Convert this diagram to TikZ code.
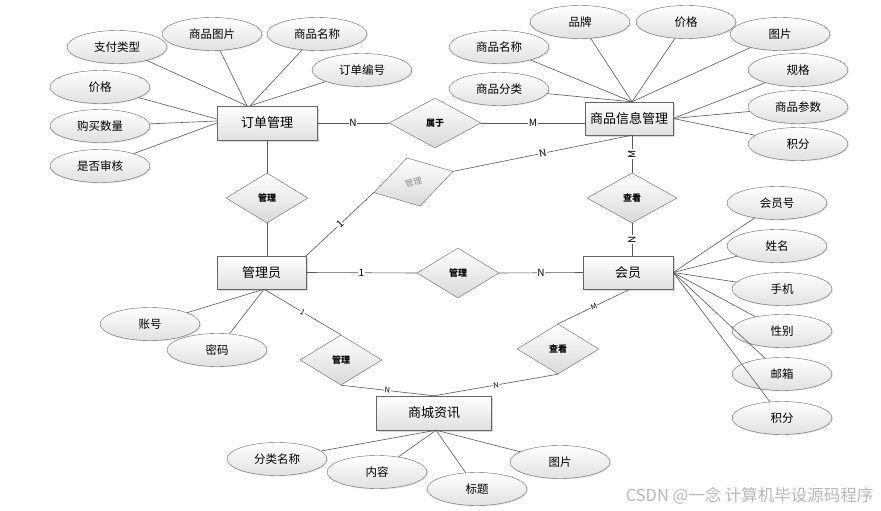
\documentclass[tikz,border=0pt]{standalone}
\usepackage{fontspec}
\newfontfamily\cjk{Noto Sans CJK SC}
\usetikzlibrary{shapes.geometric,shadows,positioning}

\begin{document}
\begin{tikzpicture}[x=1pt,y=-1pt,
    entity/.style={draw=black!60, rectangle, minimum height=34pt, inner sep=0pt,
        top color=white, bottom color=black!12,
        drop shadow={shadow xshift=1.5pt,shadow yshift=-1.5pt,fill=black!30},
        font=\cjk\fontsize{13}{15}\selectfont},
    attr/.style={draw=black!60, ellipse, minimum width=100pt, minimum height=33pt, inner sep=0pt,
        top color=white, bottom color=black!12,
        drop shadow={shadow xshift=1pt,shadow yshift=-1pt,fill=black!20},
        font=\cjk\fontsize{11.5}{13}\selectfont},
    rel/.style={draw=black!60, diamond, minimum width=82pt, minimum height=50pt, inner sep=0pt,
        top color=white, bottom color=black!15,
        font=\cjk\bfseries\fontsize{9}{10}\selectfont},
    link/.style={draw=black!65, line width=0.6pt},
    card/.style={fill=white, inner sep=0.6pt, font=\cjk\fontsize{10}{10}\selectfont},
    tinycard/.style={card, font=\cjk\fontsize{7.5}{8}\selectfont}]

    \fill[white] (0,0) rectangle (881,511);
    \useasboundingbox (0,0) rectangle (881,511);

    % entities
    \node[entity, minimum width=100pt] (dd) at (267,123) {订单管理};
    \node[entity, minimum width=88pt, minimum height=33pt] (spxx) at (629,118.5) {商品信息管理};
    \node[entity, minimum width=89pt, minimum height=33pt] (gly) at (261.5,272.5) {管理员};
    \node[entity, minimum width=90pt, minimum height=33pt] (hy) at (628,272.5) {会员};
    \node[entity, minimum width=115pt] (sczx) at (434,413) {商城资讯};

    % relations
    \node[rel, minimum width=92pt] (sy) at (435,123) {属于};
    \node[rel] (gl1) at (267,198) {管理};
    \node[rel, rotate=15, text=black!45, font=\cjk\fontsize{8.5}{9}\selectfont] (gl2) at (413.5,182) {管理};
    \node[rel] (gl3) at (458,273) {管理};
    \node[rel, minimum width=90pt] (ck1) at (632,198) {查看};
    \node[rel] (gl4) at (341,360) {管理};
    \node[rel] (ck2) at (558,349) {查看};

    % attributes of 订单管理
    \node[attr] (zflx) at (117,47) {支付类型};
    \node[attr] (sptp) at (212,34) {商品图片};
    \node[attr] (spmca) at (317,34) {商品名称};
    \node[attr] (ddbh) at (362,70) {订单编号};
    \node[attr] (jga) at (100,87) {价格};
    \node[attr] (gmsl) at (100,126) {购买数量};
    \node[attr] (sfsh) at (100,166) {是否审核};

    % attributes of 商品信息管理
    \node[attr] (pp) at (580,22) {品牌};
    \node[attr] (jgb) at (686,22) {价格};
    \node[attr] (tpa) at (780,34) {图片};
    \node[attr] (spmcb) at (499,47) {商品名称};
    \node[attr] (spfl) at (499,89) {商品分类};
    \node[attr] (gg) at (798,70) {规格};
    \node[attr] (spcs) at (798,107) {商品参数};
    \node[attr] (jfa) at (798,144) {积分};

    % attributes of 会员
    \node[attr] (hyh) at (777,203) {会员号};
    \node[attr] (xm) at (777,246) {姓名};
    \node[attr] (sj) at (782,289) {手机};
    \node[attr] (xb) at (782,331) {性别};
    \node[attr] (yx) at (782,374) {邮箱};
    \node[attr] (jfb) at (782,418) {积分};

    % attributes of 管理员
    \node[attr] (zh) at (150,324) {账号};
    \node[attr] (mm) at (217,350) {密码};

    % attributes of 商城资讯
    \node[attr] (flmc) at (277,459) {分类名称};
    \node[attr] (nr) at (377,472) {内容};
    \node[attr] (bt) at (477,489) {标题};
    \node[attr] (tpb) at (560,462) {图片};

    % attribute links
    \draw[link] (zflx) -- ([xshift=-20pt]dd.north);
    \draw[link] (sptp) -- ([xshift=-20pt]dd.north);
    \draw[link] (spmca) -- ([xshift=-17pt]dd.north);
    \draw[link] (ddbh) -- ([xshift=-17pt]dd.north);
    \draw[link] (jga) -- ([yshift=4pt]dd.west);
    \draw[link] (gmsl) -- ([yshift=2pt]dd.west);
    \draw[link] (sfsh) -- (dd.west);

    \foreach \a in {pp,jgb,tpa,spmcb,spfl}
        \draw[link] (\a) -- ([xshift=3pt]spxx.north);
    \foreach \a in {gg,spcs,jfa}
        \draw[link] (\a) -- (spxx.east);
    \foreach \a in {hyh,xm,sj,xb,yx,jfb}
        \draw[link] (\a) -- (hy.east);
    \foreach \a in {zh,mm}
        \draw[link] (\a) -- ([xshift=2.5pt]gly.south);
    \foreach \a in {flmc,nr,bt,tpb}
        \draw[link] (\a) -- ([xshift=2pt]sczx.south);

    % relation links
    \draw[link] (dd.east) -- node[card] {N} (sy.west);
    \draw[link] (sy.east) -- node[card] {M} (sy.east -| spxx.west);
    \draw[link] (dd.south) -- (gl1.north);
    \draw[link] (gl1.south) -- (gl1.south |- gly.north);
    \draw[link] (gly.north east) -- node[card, sloped] {1} (gl2.west);
    \draw[link] (gl2.east) -- node[card, sloped] {N} ([xshift=3pt]spxx.south);
    \draw[link] (ck1.north |- spxx.south) -- node[card, rotate=90] {M} (ck1.north);
    \draw[link] (ck1.south) -- node[card, rotate=90] {N} (ck1.south |- hy.north);
    \draw[link] (gly.east) -- node[card] {1} (gl3.west);
    \draw[link] (gl3.east) -- node[card] {N} (hy.west);
    \draw[link] ([xshift=2.5pt]gly.south) -- node[tinycard, sloped] {1} (gl4.north);
    \draw[link] (gl4.south) -- node[tinycard, sloped] {N} (sczx.north);
    \draw[link] (sczx.north) -- node[tinycard, sloped] {N} (ck2.south);
    \draw[link] (ck2.north) -- node[tinycard, sloped] {M} ([xshift=2pt]hy.south);

    % watermark
    \node[anchor=east, text=black!28, font=\cjk\fontsize{16.5}{17}\selectfont] (wm) at (877,496) {CSDN @一念 计算机毕设源码程序};
\end{tikzpicture}
\end{document}
